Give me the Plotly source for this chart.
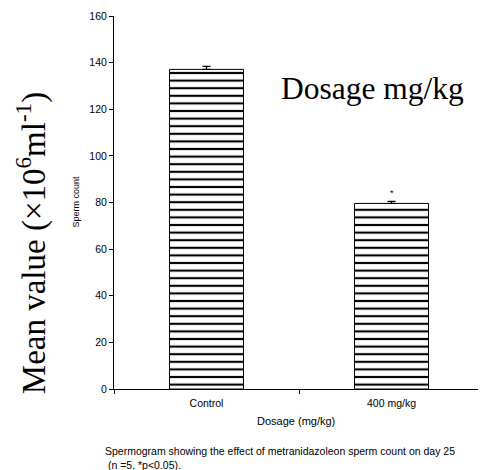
import plotly.graph_objects as go

categories = ["Control", "400 mg/kg"]
values = [137.1, 79.6]
errors = [1.3, 0.85]
sig_marks = ["", "*"]
y_ticks = [0, 20, 40, 60, 80, 100, 120, 140, 160]

fig = go.Figure()
fig.add_trace(go.Bar(
    x=categories, y=values, width=0.4,
    marker=dict(color="white", line=dict(color="black", width=1),
                pattern=dict(shape="-", size=7.6, solidity=0.28,
                             fgcolor="black", bgcolor="white", fillmode="replace")),
    error_y=dict(type="data", array=errors, arrayminus=[0] * len(errors),
                 symmetric=False, visible=True, color="black",
                 thickness=1.3, width=4),
    showlegend=False,
))

for c, v, e, s in zip(categories, values, errors, sig_marks):
    if s:
        fig.add_annotation(x=c, y=v + e + 3.5, text=s, showarrow=False,
                           xanchor="center", yanchor="middle",
                           font=dict(family="Liberation Sans", size=9, color="black"))

def px_x(p):
    return (p - 114) / 370

def px_y(p):
    return (389 - p) / 376

fig.add_annotation(xref="paper", yref="paper", x=px_x(466), y=px_y(86), text="Dosage mg/kg",
                   showarrow=False, xanchor="right", yanchor="middle",
                   font=dict(family="Liberation Serif", size=31.5, color="black"))

fig.add_annotation(xref="paper", yref="paper", x=px_x(31), y=px_y(242),
                   text="Mean value (×10<sup>6</sup>ml<sup>-1</sup>)",
                   textangle=-90, showarrow=False, xanchor="center", yanchor="middle",
                   font=dict(family="Liberation Serif", size=33, color="black"))

fig.add_annotation(xref="paper", yref="paper", x=px_x(76), y=px_y(200), text="Sperm count",
                   textangle=-90, showarrow=False, xanchor="center", yanchor="middle",
                   font=dict(family="Liberation Sans", size=9, color="black"))

fig.add_annotation(xref="paper", yref="paper", x=px_x(296), y=px_y(421), text="Dosage (mg/kg)",
                   showarrow=False, xanchor="center", yanchor="middle",
                   font=dict(family="Liberation Sans", size=11, color="black"))

fig.add_annotation(xref="paper", yref="paper", x=px_x(103), y=px_y(443), xanchor="left",
                   yanchor="top", align="left",
                   text="Spermogram showing the effect of metranidazoleon sperm count on day 25<br> (n =5, *p<0.05).",
                   showarrow=False,
                   font=dict(family="Liberation Sans", size=10.5, color="black"))

fig.update_xaxes(range=[-0.5, 1.5], showline=True, linecolor="black", linewidth=1,
                 ticks="outside", tickson="boundaries", ticklen=4, tickcolor="black",
                 ticklabelstandoff=4,
                 tickfont=dict(family="Liberation Sans", size=10.5, color="black"),
                 showgrid=False, zeroline=False)
fig.update_yaxes(range=[0, 160], tickvals=y_ticks, showline=True, linecolor="black",
                 linewidth=1, ticks="outside", ticklen=4, tickcolor="black",
                 ticklabeloverflow="allow",
                 tickfont=dict(family="Liberation Sans", size=10.5, color="black"),
                 showgrid=False, zeroline=False)

# page body has an 8px margin, so the figure is drawn 8px smaller and offset
fig.update_layout(width=478, height=462, margin=dict(l=106, r=2, t=5, b=81),
                  plot_bgcolor="white", paper_bgcolor="white", bargap=0.6)

fig.write_html("out.html")
